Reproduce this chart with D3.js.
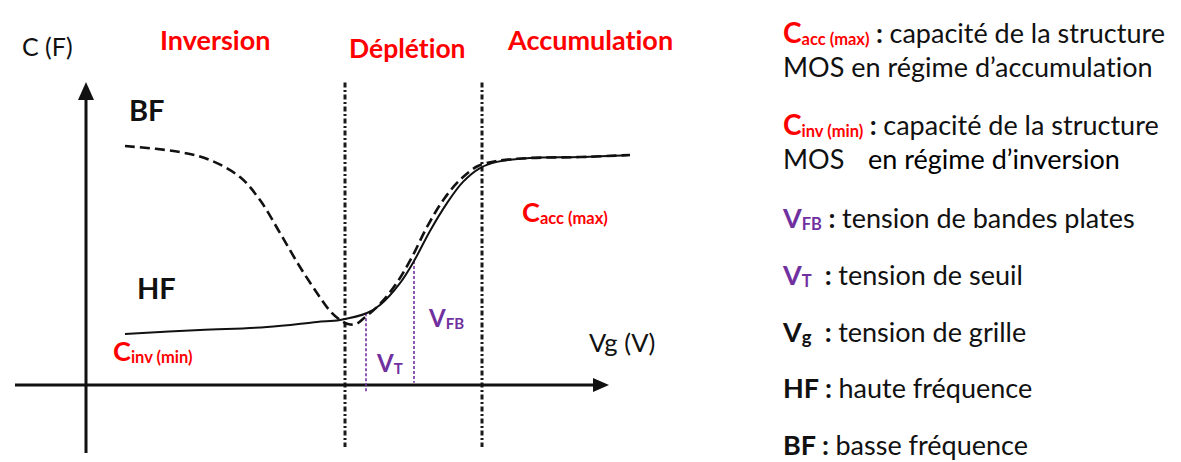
<!DOCTYPE html>
<html lang="fr">
<head>
<meta charset="utf-8">
<script src="https://cdn.jsdelivr.net/npm/d3@7"></script>
<style>
  html, body { margin: 0; padding: 0; background: #fff; }
  svg { display: block; font-family: Lato, "Noto Sans", sans-serif; font-variant-ligatures: none; font-feature-settings: "liga" 0, "clig" 0; }
</style>
</head>
<body>
<svg id="chart" width="1181" height="462"></svg>
<script>
// Gate voltage (arbitrary units) and normalised capacitance C/Cox
const hfVg = [0.78, 2.28, 3.62, 4.62, 5.08, 5.62, 5.88, 6.28, 6.56, 6.88, 7.22, 7.54, 7.88, 8.22, 8.88, 9.88, 10.88];
const hfC  = [0.222, 0.239, 0.252, 0.274, 0.283, 0.313, 0.348, 0.443, 0.539, 0.670, 0.791, 0.883, 0.943, 0.970, 0.987, 0.991, 1.000];

const bfVg = [0.78, 1.88, 2.48, 3.08, 3.48, 3.88, 4.28, 4.62, 4.88, 5.08, 5.24, 5.40, 5.56, 5.84, 6.20, 6.50, 6.82, 7.16, 7.50, 7.84, 8.22, 8.88, 9.88, 10.88];
const bfC  = [1.039, 1.013, 0.978, 0.904, 0.804, 0.661, 0.513, 0.400, 0.322, 0.283, 0.265, 0.265, 0.291, 0.343, 0.439, 0.548, 0.687, 0.809, 0.896, 0.952, 0.974, 0.987, 0.991, 1.000];

// Regime boundaries and characteristic voltages
const regimeBounds = [5.18, 7.92];
const regimeNames = ["Inversion", "Déplétion", "Accumulation"];
const vT = 5.6;
const vFB = 6.56;

// Axis extents
const vgRange = [-1.42, 10.38];
const cRange = [-1.7, 1.317];

const svg = d3.select("#chart");
const x = d3.scaleLinear().domain([0, 10]).range([86, 586]);
const y = d3.scaleLinear().domain([0, 1]).range([385, 155]);

const RED = "#ff0000", PURPLE = "#7030a0", INK = "#111";

// Regime boundaries (dash-dot)
svg.selectAll("line.bound").data(regimeBounds).join("line")
  .attr("class", "bound")
  .attr("x1", d => x(d)).attr("x2", d => x(d))
  .attr("y1", y(1.315)).attr("y2", y(-0.27))
  .attr("stroke", "#1a1a1a").attr("stroke-width", 3)
  .attr("stroke-dasharray", "5,2.5,2,2.5");

// Axes with arrow heads
svg.append("line")
  .attr("x1", x(vgRange[0])).attr("x2", x(vgRange[1]) - 6)
  .attr("y1", y(0)).attr("y2", y(0))
  .attr("stroke", INK).attr("stroke-width", 3);
svg.append("path")
  .attr("d", `M${x(vgRange[1]) + 4},${y(0)} L${x(vgRange[1]) - 12},${y(0) - 7} L${x(vgRange[1]) - 12},${y(0) + 7} Z`)
  .attr("fill", INK);

svg.append("line")
  .attr("x1", x(0)).attr("x2", x(0))
  .attr("y1", y(-0.296)).attr("y2", y(cRange[1]) + 8)
  .attr("stroke", INK).attr("stroke-width", 3);
svg.append("path")
  .attr("d", `M${x(0)},${y(cRange[1])} L${x(0) - 8},${y(cRange[1]) + 18} L${x(0) + 8},${y(cRange[1]) + 18} Z`)
  .attr("fill", INK);

// Characteristic voltages, dropped from the HF curve
const hfAt = d3.scaleLinear().domain(hfVg).range(hfC);
svg.append("line")
  .attr("x1", x(vT)).attr("x2", x(vT))
  .attr("y1", y(hfAt(vT))).attr("y2", y(-0.035))
  .attr("stroke", PURPLE).attr("stroke-width", 1.6).attr("stroke-dasharray", "3,2");
svg.append("line")
  .attr("x1", x(vFB)).attr("x2", x(vFB))
  .attr("y1", y(hfAt(vFB))).attr("y2", y(0.01))
  .attr("stroke", PURPLE).attr("stroke-width", 1.6).attr("stroke-dasharray", "3,2");

// C-V curves
const line = d3.line().x(d => x(d[0])).y(d => y(d[1])).curve(d3.curveCatmullRom.alpha(0.5));
svg.append("path")
  .attr("d", line(d3.zip(hfVg, hfC)))
  .attr("fill", "none").attr("stroke", INK).attr("stroke-width", 2);
svg.append("path")
  .attr("d", line(d3.zip(bfVg, bfC)))
  .attr("fill", "none").attr("stroke", INK).attr("stroke-width", 2.6)
  .attr("stroke-dasharray", "10,5");

// Labels
function label(xp, yp, parts) {
  const t = svg.append("text").attr("x", xp).attr("y", yp);
  parts.forEach(p => {
    t.append("tspan")
      .attr("dy", p.dy || 0)
      .attr("font-size", p.size)
      .attr("font-weight", p.bold ? 700 : 400)
      .attr("fill", p.color || INK)
      .style("white-space", "pre")
      .text(p.text);
  });
  return t;
}

label(22, 56, [{text: "C (F)", size: 25}]);
const regimeX = [160, 349, 508], regimeY = [50, 58, 50], regimeSize = [27, 26.5, 27];
regimeNames.forEach((n, i) => label(regimeX[i], regimeY[i], [{text: n, size: regimeSize[i], bold: true, color: RED}]));

label(129, 121, [{text: "BF", size: 29, bold: true}]);
label(137, 299, [{text: "HF", size: 29, bold: true}]);

label(113, 361, [{text: "C", size: 27, bold: true, color: RED}, {text: "inv (min)", size: 16.5, bold: true, color: RED, dy: 2}]);
label(522, 222, [{text: "C", size: 27, bold: true, color: RED}, {text: "acc (max)", size: 16.5, bold: true, color: RED, dy: 2}]);
label(377, 372, [{text: "V", size: 24, bold: true, color: PURPLE}, {text: "T", size: 15, bold: true, color: PURPLE, dy: 2}]);
label(429, 327, [{text: "V", size: 24, bold: true, color: PURPLE}, {text: "FB", size: 15, bold: true, color: PURPLE, dy: 2}]);
label(589, 352, [{text: "Vg (V)", size: 25.5}]);

// Glossary
const gx = 783, big = 27, small = 16.5;
label(gx, 43, [{text: "C", size: 28, bold: true, color: RED}, {text: "acc (max)", size: small, bold: true, color: RED, dy: 2},
  {text: " : ", size: big, bold: true, dy: -2}, {text: "capacité de la structure", size: big}]);
label(gx, 77, [{text: "MOS en régime d’accumulation", size: big}]);
label(gx, 135, [{text: "C", size: 28, bold: true, color: RED}, {text: "inv (min)", size: small, bold: true, color: RED, dy: 2},
  {text: " : ", size: big, bold: true, dy: -2}, {text: "capacité de la structure", size: big}]);
const inv = label(gx, 169, [{text: "MOS", size: big}]);
inv.append("tspan").attr("x", 868).attr("font-size", big).text("en régime d’inversion");
label(gx, 228, [{text: "V", size: big, bold: true, color: PURPLE}, {text: "FB", size: small, bold: true, color: PURPLE, dy: 2},
  {text: " : ", size: big, bold: true, dy: -2}, {text: "tension de bandes plates", size: big}]);
label(gx, 285, [{text: "V", size: big, bold: true, color: PURPLE}, {text: "T", size: small, bold: true, color: PURPLE, dy: 2},
  {text: "  : ", size: big, bold: true, dy: -2}, {text: "tension de seuil", size: big}]);
label(gx, 342, [{text: "V", size: big, bold: true}, {text: "g", size: small + 2, bold: true, dy: 2},
  {text: "  : ", size: big, bold: true, dy: -2}, {text: "tension de grille", size: big}]);
label(gx, 398, [{text: "HF : ", size: big, bold: true}, {text: "haute fréquence", size: big}]);
label(gx, 455, [{text: "BF : ", size: big, bold: true}, {text: "basse fréquence", size: big}]);
</script>
</body>
</html>
